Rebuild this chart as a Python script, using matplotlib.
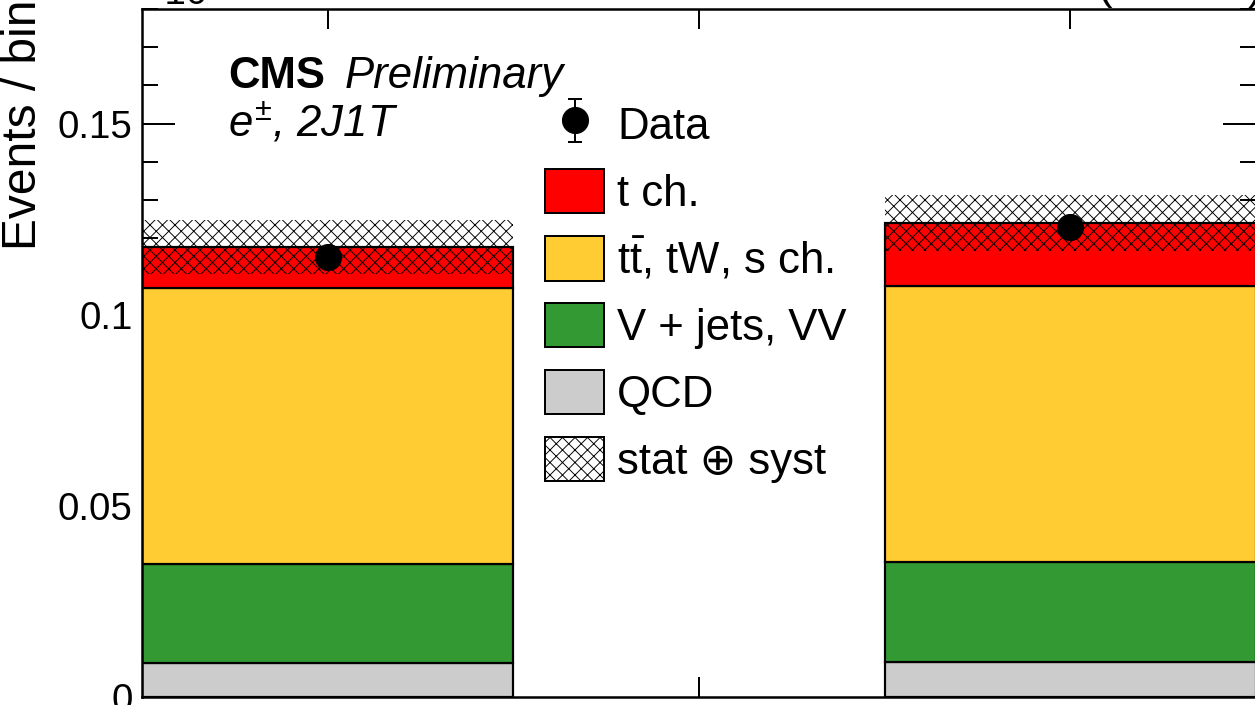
import matplotlib
matplotlib.use("Agg")
import matplotlib.pyplot as plt
from matplotlib.patches import Patch
from matplotlib.ticker import MultipleLocator, FuncFormatter
import numpy as np

# stacked yields per bin (x10^6 events), left and right bins; middle bin empty
bin_lo = [0, 2]
qcd = [0.0089, 0.0092]
vjets = [0.0259, 0.0261]
ttbar = [0.0723, 0.0723]
tch = [0.0107, 0.0165]
unc = [0.0071, 0.0073]
data = [0.1152, 0.1230]

labels = ["t ch.", r"t$\bar{\mathrm{t}}$, tW, s ch.", "V + jets, VV", "QCD"]
colors = ["#ff0000", "#ffcc33", "#339933", "#cccccc"]

plt.rcParams["font.family"] = ["Liberation Sans", "DejaVu Sans"]
plt.rcParams["mathtext.fontset"] = "custom"
plt.rcParams["mathtext.rm"] = "Liberation Sans"
plt.rcParams["mathtext.it"] = "Liberation Sans:italic"
plt.rcParams["hatch.linewidth"] = 0.9

DPI = 75
W, H = 1255, 705


def fx(px):
    return px / W


def fy(py):
    return 1 - py / H


fig = plt.figure(figsize=(W / DPI, H / DPI), dpi=DPI)
ax = fig.add_axes([fx(142), fy(697), (1256 - 142) / W, (697 - 9) / H])

x = np.array(bin_lo, dtype=float)
stack = [np.array(qcd), np.array(vjets), np.array(ttbar), np.array(tch)]
bottom = np.zeros(2)
for vals, col in zip(stack, colors[::-1]):
    ax.bar(x, vals, bottom=bottom, width=1, align="edge", color=col,
           edgecolor="black", linewidth=2.1, zorder=2)
    bottom = bottom + vals
total = bottom
u = np.array(unc)
ax.bar(x, 2 * u, bottom=total - u, width=1, align="edge", fill=False,
       hatch="xx", edgecolor="black", linewidth=0, zorder=3)

d = np.array(data)
derr = np.sqrt(d * 1e6) / 1e6
eb = ax.errorbar(x + 0.5, d, yerr=derr, fmt="o", color="black", ms=25,
                 capsize=7, elinewidth=1.9, capthick=1.9, zorder=4)

ax.set_xlim(0, 3)
ax.set_ylim(0, 0.18)
ax.set_xticks([0.5, 1.5, 2.5])
ax.yaxis.set_major_locator(MultipleLocator(0.05))
ax.yaxis.set_minor_locator(MultipleLocator(0.01))
ax.yaxis.set_major_formatter(FuncFormatter(lambda v, p: "%g" % round(v, 4)))
ax.tick_params(axis="both", which="both", direction="in", top=True,
               right=True, width=1.9, labelsize=37, pad=9)
ax.tick_params(axis="y", which="major", length=31.5)
ax.tick_params(axis="y", which="minor", length=15.5)
ax.tick_params(axis="x", which="major", length=19, labelbottom=False)
for sp in ax.spines.values():
    sp.set_linewidth(2.4)
    sp.set_zorder(5)

fig.text(fx(1), fy(0), "Events / bin", rotation=90, ha="left", va="top",
         fontsize=46)
fig.text(fx(142), fy(4), "\u00d710\u2076", fontsize=37, va="baseline")
fig.text(fx(1263), fy(-1), "(13 TeV)", fontsize=42, ha="right",
         va="baseline")

fig.text(fx(228), fy(88), "CMS", fontsize=42, fontweight="bold",
         va="baseline")
fig.text(fx(345), fy(88), "Preliminary", fontsize=42, style="italic",
         va="baseline")
fig.text(fx(228), fy(137), r"$e^{\pm}$, 2J1T", fontsize=42, style="italic",
         va="baseline")

handles = [eb] + [Patch(facecolor=c, edgecolor="black", linewidth=1.9)
                  for c in colors]
handles.append(Patch(facecolor="white", edgecolor="black", linewidth=1.9,
                     hatch="xx"))
leg = ax.legend(handles, ["Data"] + labels + ["stat \u2295 syst"],
                loc="upper left", bbox_to_anchor=(fx(545), fy(102)),
                bbox_transform=fig.transFigure, frameon=False, fontsize=42,
                handlelength=1.35, handleheight=1.18, labelspacing=0.48,
                handletextpad=0.3, borderpad=0, borderaxespad=0)

fig.savefig("out.png", dpi=DPI)
